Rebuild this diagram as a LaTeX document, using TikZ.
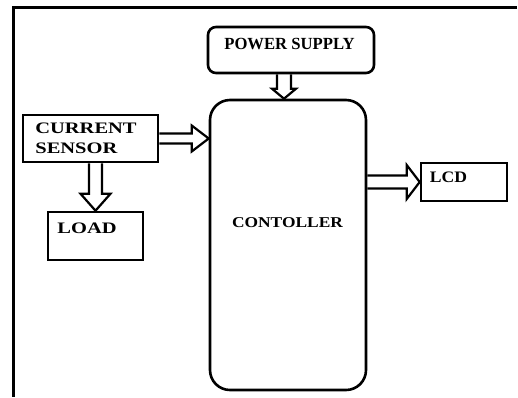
\documentclass[tikz,border=0pt]{standalone}
\usepackage{fontspec}
\setmainfont{Liberation Serif}
\newfontfamily\widefont{Liberation Serif}[FakeStretch=1.28]
\newfontfamily\ctrlfont{Liberation Serif}[FakeStretch=1.16]
\newfontfamily\lcdfont{Liberation Serif}[FakeStretch=1.1]
\newfontfamily\psfont{Liberation Serif}[FakeStretch=0.98]
\usetikzlibrary{calc}

% hollow block arrow: start, tip, shaft half width, head half width, head length
\newcommand{\fatarrow}[5]{%
  \coordinate (hb) at ($(#2)!#5!(#1)$);
  \draw[fat] ($(#1)!#3!90:(#2)$) -- ($(hb)!#3!-90:(#1)$) -- ($(hb)!#4!-90:(#1)$) -- (#2)
    -- ($(hb)!#4!90:(#1)$) -- ($(hb)!#3!90:(#1)$) -- ($(#1)!#3!-90:(#2)$);
}

\begin{document}
\begin{tikzpicture}[x=1pt,y=-1pt,
	box/.style={draw, line width=2.6pt, inner sep=0pt},
	fat/.style={line width=2.2pt, line join=miter},
	txt/.style={anchor=center, inner sep=0pt, align=left, font=\widefont\bfseries\fontsize{16}{20}\selectfont}]
	\useasboundingbox (0,0) rectangle (518,397);
	\draw[line width=3pt] (517,7) -- (13,7) -- (13,397);

	\node[box, rounded corners=8pt, minimum width=166, minimum height=46,
		label={[txt, name=powertxt, font=\psfont\bfseries\fontsize{17}{20}\selectfont, xshift=-1.5pt, yshift=6.5pt]center:POWER SUPPLY}] (power) at (291,50) {};
	\node[box, rounded corners=20pt, minimum width=156, minimum height=290,
		label={[txt, name=ctrltxt, font=\ctrlfont\bfseries\fontsize{15}{20}\selectfont, xshift=-0.5pt, yshift=22pt]center:CONTOLLER}] (ctrl) at (288,245) {};
	\node[box, minimum width=135, minimum height=47,
		label={[txt, name=sensortxt, xshift=-4.5pt, yshift=0.5pt]center:CURRENT\\SENSOR}] (sensor) at (90.5,138.5) {};
	\node[box, minimum width=95, minimum height=48,
		label={[txt, name=loadtxt, xshift=-8.5pt, yshift=8pt]center:LOAD}] (load) at (95.5,236) {};
	\node[box, minimum width=86, minimum height=38,
		label={[txt, name=lcdtxt, font=\lcdfont\bfseries\fontsize{16}{20}\selectfont, xshift=-15.5pt, yshift=5pt]center:LCD}] (lcd) at (464,182) {};

	\coordinate (p2c) at ([xshift=-7pt]power.south);
	\coordinate (p2ctip) at (p2c |- ctrl.north);
	\coordinate (s2ctip) at (sensor.east -| ctrl.west);
	\coordinate (s2l) at (load.north |- sensor.south);
	\coordinate (c2l) at (lcd.west -| ctrl.east);

	\fatarrow{p2c}{p2ctip}{7pt}{12pt}{10pt}
	\fatarrow{sensor.east}{s2ctip}{5pt}{13pt}{17pt}
	\fatarrow{s2l}{load.north}{6.5pt}{15pt}{17pt}
	\fatarrow{c2l}{lcd.west}{6.5pt}{17pt}{13pt}
\end{tikzpicture}
\end{document}
